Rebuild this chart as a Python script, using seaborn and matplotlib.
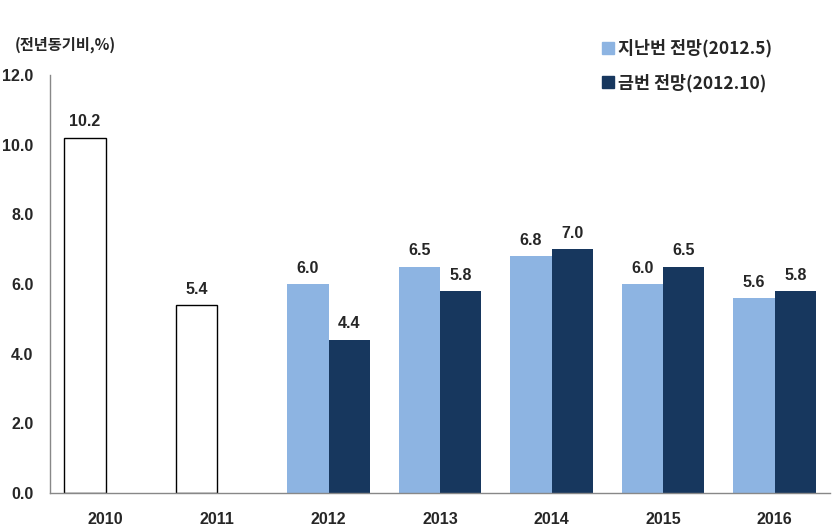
import numpy as np
import pandas as pd
import matplotlib.pyplot as plt
import seaborn as sns
from matplotlib.lines import Line2D

# ── 데이터 ────────────────────────────────────────────────
years      = ["2010", "2011", "2012", "2013", "2014", "2015", "2016"]
prev_fcst  = [10.2, 5.4, 6.0, 6.5, 6.8, 6.0, 5.6]   # 2010, 2011은 실적치
curr_fcst  = [np.nan, np.nan, 4.4, 5.8, 7.0, 6.5, 5.8]
n_actual   = 2
series     = ["지난번 전망(2012.5)", "금번 전망(2012.10)"]
colors     = ["#8DB4E2", "#17375E"]

df = pd.DataFrame({
    "year": years * 2,
    "value": prev_fcst + curr_fcst,
    "series": [series[0]] * len(years) + [series[1]] * len(years),
})

# ── 스타일 ────────────────────────────────────────────────
sns.set_style("white")
plt.rcParams["font.family"] = ["Noto Sans CJK KR", "DejaVu Sans"]
plt.rcParams["font.weight"] = "bold"
NUM_FONT = ["Liberation Sans", "DejaVu Sans"]

fig = plt.figure(figsize=(8.32, 5.29), dpi=100)
ax = fig.add_axes([0.060, 0.068, 0.938, 0.790])

sns.barplot(data=df, x="year", y="value", hue="series", order=years,
            hue_order=series, palette=colors, width=0.74, saturation=1,
            edgecolor="none", legend=False, ax=ax)

# 2010, 2011 실적치: 흰색 막대 + 검은 테두리
first = ax.containers[0]
for i in range(n_actual):
    first[i].set_facecolor("white")
    first[i].set_edgecolor("black")
    first[i].set_linewidth(1.0)

# 값 레이블
for cont in ax.containers:
    labels = ["" if np.isnan(v) else f"{v:.1f}" for v in cont.datavalues]
    ax.bar_label(cont, labels=labels, padding=6, fontsize=11.5,
                 fontweight="bold", family=NUM_FONT)

# ── 축 ───────────────────────────────────────────────────
ax.set_ylim(0, 12)
ax.set_yticks(np.arange(0, 12.1, 2))
ax.set_yticklabels([f"{v:.1f}" for v in np.arange(0, 12.1, 2)],
                   fontsize=11.5, fontweight="bold", family=NUM_FONT)
ax.set_xlim(-0.5, len(years) - 0.5)
ax.set_xticks(np.arange(len(years)))
ax.set_xticklabels(years, fontsize=11.5, fontweight="bold", family=NUM_FONT)
ax.set_xticks(np.arange(len(years) + 1) - 0.5, minor=True)
ax.tick_params(axis="x", which="major", length=0, pad=14)
ax.tick_params(axis="x", which="minor", length=5, direction="out", color="#888888")
ax.tick_params(axis="y", length=5, direction="out", color="#888888", pad=7)
ax.set_xlabel("")
ax.set_ylabel("")

sns.despine(ax=ax, top=True, right=True)
for s in ["left", "bottom"]:
    ax.spines[s].set_color("#888888")
    ax.spines[s].set_linewidth(1.0)

fig.text(0.018, 0.915, "(전년동기비,%)", fontsize=11, fontweight="bold",
         ha="left", va="center")

handles = [Line2D([], [], marker="s", linestyle="none", markersize=8,
                  markerfacecolor=c, markeredgecolor=c) for c in colors]
fig.legend(handles, series, loc="upper left", bbox_to_anchor=(0.703, 0.955),
           frameon=False, fontsize=12.5, handletextpad=0.1, labelspacing=0.9,
           handlelength=0.9)

fig.savefig("out.png", dpi=100)
